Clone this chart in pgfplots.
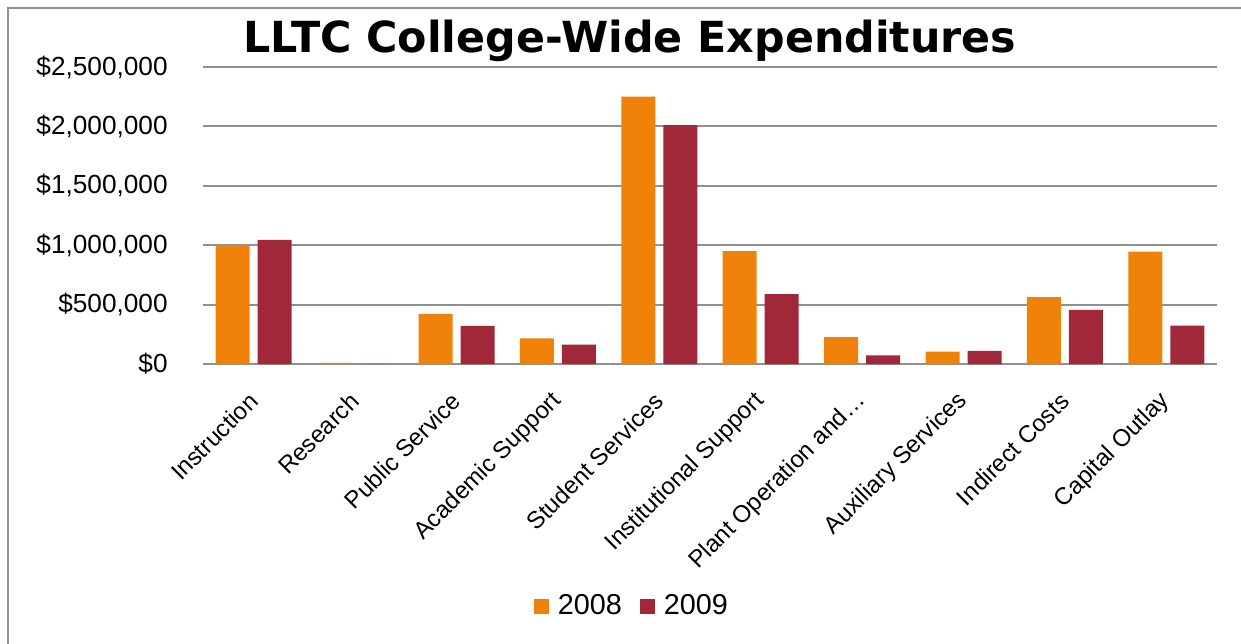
\documentclass[border=0pt]{standalone}
\usepackage{pgfplots}
\pgfplotsset{compat=1.18}
\usepackage{fontspec}
\setmainfont{Liberation Sans}
\newfontfamily\titlefont{DejaVu Sans}
\definecolor{cOrange}{RGB}{240,130,10}
\definecolor{cRed}{RGB}{160,40,56}
\definecolor{cGrid}{RGB}{145,145,145}
\begin{document}
\begin{tikzpicture}
\useasboundingbox (0,0) rectangle (620.5pt,321.5pt);
\draw[cGrid, line width=1pt] (4pt,-5pt) -- (4pt,317.5pt) -- (630pt,317.5pt);
\node[font=\titlefont\bfseries\fontsize{21.4}{24}\selectfont] at (315pt,301pt) {LLTC College-Wide Expenditures};
\begin{axis}[
  at={(101.5pt,139.5pt)}, anchor=south west,
  width=507pt, height=148.5pt, scale only axis,
  ybar=4pt, bar width=17pt,
  xmin=-0.5, xmax=9.5, ymin=0, ymax=2500000,
  axis line style={draw=none},
  ymajorgrids, grid style={cGrid, line width=1pt},
  major tick length=0pt,
  scaled y ticks=false,
  ytick={0,500000,1000000,1500000,2000000,2500000},
  yticklabels={{\$0},{\$500,000},{\$1,000,000},{\$1,500,000},{\$2,000,000},{\$2,500,000}},
  yticklabel style={font=\fontsize{13.1}{15}\selectfont, anchor=east, inner sep=0pt, xshift=-17.5pt},
  xtick={0,...,9},
  xticklabels={Instruction,Research,Public Service,Academic Support,Student Services,Institutional Support,Plant Operation and…,Auxiliary Services,Indirect Costs,Capital Outlay},
  xticklabel style={font=\fontsize{12}{14}\selectfont, anchor=east, inner sep=0pt, yshift=-16.5pt, xshift=0pt, rotate=45},
  legend columns=2,
  legend style={at={(0.424,-0.815)}, anchor=center, draw=none, font=\fontsize{14.4}{16}\selectfont, /tikz/every even column/.append style={column sep=7pt}},
  legend image code/.code={\fill[#1] (0pt,-3.75pt) rectangle (7.5pt,3.75pt);},
]
\addplot[fill=cOrange, draw=none] coordinates {(0,1000000) (1,10000) (2,421000) (3,216000) (4,2250000) (5,951000) (6,227000) (7,105000) (8,562000) (9,945000)};
\addplot[fill=cRed, draw=none] coordinates {(0,1044000) (1,0) (2,320000) (3,163000) (4,2010000) (5,589000) (6,73000) (7,111000) (8,456000) (9,324000)};
\legend{\hspace{2.5pt}2008,\hspace{2.5pt}2009}
\end{axis}
\end{tikzpicture}
\end{document}
